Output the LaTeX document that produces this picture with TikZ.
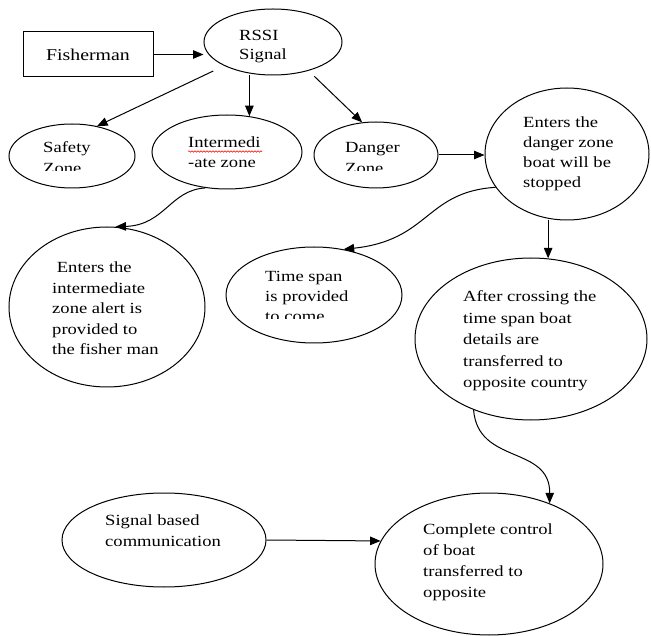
\documentclass[tikz,border=0pt]{standalone}
\usepackage{fontspec}
\setmainfont{Liberation Serif}[FakeStretch=1.2]
\usetikzlibrary{arrows.meta,decorations.pathmorphing,shapes.geometric}
\begin{document}
\begin{tikzpicture}[x=1pt,y=-1pt,
  ell/.style={draw, ellipse, line width=1pt, inner sep=0pt},
  box/.style={draw, rectangle, line width=1pt, inner sep=0pt},
  txt/.style={anchor=base west, align=left, inner sep=0pt, font=\fontsize{15.5}{20.5}\selectfont},
  arr/.style={-{Triangle[length=10.5pt,width=8.5pt]}, line width=1pt},
]
\useasboundingbox (0,0) rectangle (651,636);
% (text nodes are anchored at the baseline of their last line)
\node[box, minimum width=130pt, minimum height=45pt, font=\fontsize{16.5}{20.5}\selectfont] (fish) at (88,54.5) {Fisherman};
\node[ell, minimum width=138pt, minimum height=66pt] (rssi) at (273,42) {};
\node[txt, font=\fontsize{15.5}{19}\selectfont] (rssitxt) at (239,60) {RSSI\\Signal};
\node[ell, minimum width=126pt, minimum height=64pt] (safe) at (72,156) {};
\begin{scope}
\clip (30,130) rectangle (130,170.5);
\node[txt] (safetxt) at (43,173.5) {Safety\\Zone};
\end{scope}
\node[ell, minimum width=150pt, minimum height=74pt] (inter) at (227,152) {};
\node[txt, font=\fontsize{15.5}{19.5}\selectfont] (intertxt) at (188,167.5) {Intermedi\\-ate zone};
\draw[red, line width=0.6pt, decorate, decoration={snake, amplitude=0.7pt, segment length=3pt}] (188,151.5) -- (262,151.5);
\node[ell, minimum width=124pt, minimum height=66pt] (danger) at (376,155) {};
\begin{scope}
\clip (330,130) rectangle (430,171);
\node[txt] (dangertxt) at (345,173.5) {Danger\\Zone};
\end{scope}
\node[ell, minimum width=164pt, minimum height=132pt] (entd) at (567,154) {};
\node[txt, font=\fontsize{15.5}{20}\selectfont] (entdtxt) at (523,188) {Enters the\\danger zone\\boat will be\\stopped};
\node[ell, minimum width=196pt, minimum height=160pt] (enti) at (107,307) {};
\node[txt] (entitxt) at (52,355) {\ Enters the\\intermediate\\zone alert is\\provided to\\the fisher man};
\node[ell, minimum width=176pt, minimum height=96pt] (ts) at (314,295) {};
\begin{scope}
\clip (240,260) rectangle (400,318.5);
\node[txt, font=\fontsize{15.5}{20}\selectfont] (tstxt) at (265,322) {Time span\\is provided\\to come};
\end{scope}
\node[ell, minimum width=232pt, minimum height=162pt] (after) at (531,339) {};
\node[txt, font=\fontsize{15.5}{21.5}\selectfont] (aftertxt) at (463,388) {After crossing the\\time span boat\\details are\\transferred to\\opposite country};
\node[ell, minimum width=204pt, minimum height=94pt] (sig) at (164,540) {};
\node[txt, font=\fontsize{15.5}{21.5}\selectfont] (sigtxt) at (105,546.5) {Signal based\\communication};
\node[ell, minimum width=228pt, minimum height=142pt] (comp) at (489,564) {};
\node[txt, font=\fontsize{15.5}{20.7}\selectfont] (comptxt) at (423,597) {Complete control\\of boat\\transferred to\\opposite};
% connectors
\draw[arr] (fish.east) -- (rssi.west |- fish.east);
\draw[arr, shorten <=12pt] (rssi.206) -- (safe.50);
\draw[arr] (inter.58 |- rssi.south) -- (inter.58);
\draw[arr, shorten <=8pt] (rssi.321) -- (danger.113);
\draw[arr] (danger.east) -- (entd.west |- danger.east);
\draw[arr] (after.78 |- entd.south) -- (after.78);
\draw[arr] (inter.239) .. controls (170,190) and (165,225) .. (enti.84);
\draw[arr] (entd.205) .. controls (425,192) and (430,240) .. (ts.57);
\draw[arr] (after.231) .. controls (478,465) and (550,445) .. (comp.45);
\draw[arr] (sig.east) -- (comp.168);
\end{tikzpicture}
\end{document}
